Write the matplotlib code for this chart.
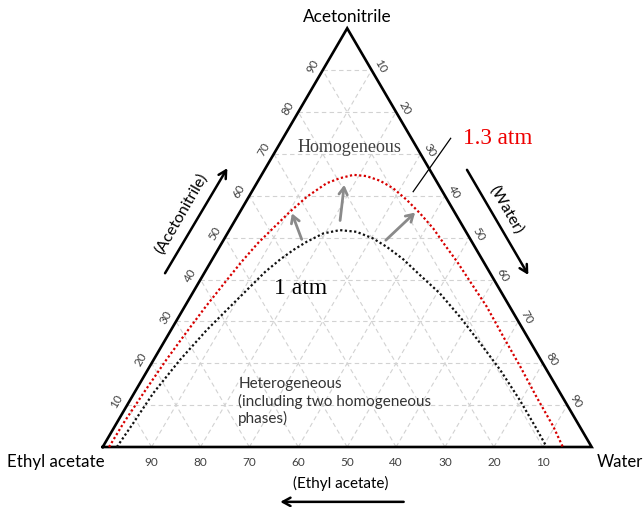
import numpy as np
import matplotlib.pyplot as plt

# ── binodal curves (mole fractions) ──────────────────────────────────────────
ACN_1ATM = [0.0, 0.057, 0.128, 0.208, 0.279, 0.327, 0.382, 0.418, 0.448, 0.471,
            0.490, 0.510, 0.518, 0.514, 0.498, 0.478, 0.448, 0.411, 0.367, 0.311,
            0.248, 0.184, 0.112, 0.049, 0.0]
WATER_1ATM = [0.029, 0.034, 0.039, 0.054, 0.073, 0.090, 0.110, 0.123, 0.139, 0.155,
              0.172, 0.196, 0.226, 0.262, 0.304, 0.342, 0.391, 0.443, 0.506, 0.575,
              0.648, 0.721, 0.797, 0.860, 0.908]

ACN_13ATM = [0.0, 0.057, 0.128, 0.208, 0.272, 0.335, 0.391, 0.443, 0.487, 0.522,
             0.562, 0.598, 0.630, 0.642, 0.650, 0.647, 0.636, 0.618, 0.590, 0.558,
             0.522, 0.482, 0.443, 0.395, 0.335, 0.263, 0.192, 0.120, 0.049, 0.0]
WATER_13ATM = [0.013, 0.014, 0.019, 0.026, 0.034, 0.043, 0.053, 0.063, 0.074, 0.087,
               0.102, 0.119, 0.143, 0.164, 0.188, 0.216, 0.249, 0.285, 0.327, 0.370,
               0.415, 0.459, 0.503, 0.554, 0.618, 0.688, 0.758, 0.827, 0.897, 0.941]

# pressure-shift arrows: (acn, water) of tail -> head
SHIFT_TAILS = [(0.496, 0.159), (0.541, 0.215), (0.494, 0.332)]
SHIFT_HEADS = [(0.558, 0.108), (0.626, 0.181), (0.560, 0.359)]

TICKS = [10, 20, 30, 40, 50, 60, 70, 80, 90]

SANS = ["Lato", "DejaVu Sans"]
SERIF = ["Liberation Serif", "DejaVu Serif"]
TICK_COLOR = "#404040"
ARROW = "->,head_length=0.55,head_width=0.3"


def tern(acn, water):
    """Acetonitrile at the top, water bottom-right, ethyl acetate bottom-left."""
    acn = np.asarray(acn, dtype=float)
    water = np.asarray(water, dtype=float)
    return water + acn / 2, acn


fig = plt.figure(figsize=(6.44, 5.07), dpi=100)
ax = fig.add_axes([0, 0, 1, 1])
ax.set_xlim(-0.210, 1.107)
ax.set_ylim(-0.1433, 1.0676)
ax.axis("off")

# dashed grid
for t in TICKS:
    f = t / 100
    for a0, w0, a1, w1 in [(f, 0, f, 1 - f),        # constant acetonitrile
                           (0, f, 1 - f, f),        # constant water
                           (0, 1 - f, 1 - f, 0)]:   # constant ethyl acetate
        x, y = tern([a0, a1], [w0, w1])
        ax.plot(x, y, color="#d2d2d2", lw=0.8, ls=(0, (4, 3)), zorder=1)

# triangle
x, y = tern([0, 0, 1, 0], [0, 1, 0, 0])
ax.plot(x, y, color="black", lw=1.9, solid_joinstyle="miter", zorder=3)

# tick labels
for t in TICKS:
    f = t / 100
    ax.annotate(str(t), tern(f, 0), xytext=(-7.4, 3.0), textcoords="offset points",
                ha="center", va="center", rotation=60, fontsize=8.5,
                color=TICK_COLOR, family=SANS)
    ax.annotate(str(t), tern(1 - f, f), xytext=(6.4, 2.8), textcoords="offset points",
                ha="center", va="center", rotation=-60, fontsize=8.5,
                color=TICK_COLOR, family=SANS)
    ax.annotate(str(t), tern(0, 1 - f), xytext=(0, -11.3), textcoords="offset points",
                ha="center", va="center", fontsize=8.5, color=TICK_COLOR, family=SANS)

# binodal curves
x, y = tern(ACN_1ATM, WATER_1ATM)
ax.plot(x, y, color="#111111", lw=1.6, ls=(0, (1, 1.1)), zorder=4)
x, y = tern(ACN_13ATM, WATER_13ATM)
ax.plot(x, y, color="#d80000", lw=1.6, ls=(0, (1, 1.1)), zorder=4)

for (ta, tw), (ha_, hw) in zip(SHIFT_TAILS, SHIFT_HEADS):
    ax.annotate("", xy=tern(ha_, hw), xytext=tern(ta, tw),
                arrowprops=dict(arrowstyle="->,head_length=0.5,head_width=0.3",
                                color="#8a8a8a", lw=2.0, shrinkA=0, shrinkB=0),
                zorder=5)

# vertex labels
ax.annotate("Acetonitrile", tern(1, 0), xytext=(0, 8), textcoords="offset points",
            ha="center", va="center", fontsize=12.4, family=SANS)
ax.annotate("Ethyl acetate", tern(0, 0), xytext=(1.5, -11), textcoords="offset points",
            ha="right", va="center", fontsize=12.2, family=SANS)
ax.annotate("Water", tern(0, 1), xytext=(4, -11), textcoords="offset points",
            ha="left", va="center", fontsize=12, family=SANS)

# direction arrows and axis captions
ax.annotate("", xy=tern(0.666, -0.078), xytext=tern(0.415, -0.080),
            arrowprops=dict(arrowstyle=ARROW, color="black", lw=1.8,
                            shrinkA=0, shrinkB=0))
ax.text(*tern(0.5565, -0.117), "(Acetonitrile)", rotation=60, ha="center",
        va="center", fontsize=11.5, family=SANS)
ax.annotate("", xy=tern(0.411, 0.665), xytext=tern(0.662, 0.414),
            arrowprops=dict(arrowstyle=ARROW, color="black", lw=1.8,
                            shrinkA=0, shrinkB=0))
ax.text(*tern(0.566, 0.543), "(Water)", rotation=-60, ha="center", va="center",
        fontsize=11.5, family=SANS)
ax.annotate("", xy=tern(-0.131, 0.4286), xytext=tern(-0.131, 0.681),
            arrowprops=dict(arrowstyle=ARROW, color="black", lw=1.8,
                            shrinkA=0, shrinkB=0))
ax.text(*tern(-0.0868, 0.531), "(Ethyl acetate)", ha="center", va="center",
        fontsize=11, family=SANS)

# region / curve labels
ax.text(*tern(0.7148, 0.148), "Homogeneous", ha="center", va="center",
        fontsize=13, color="#404040", family=SERIF)
ax.text(*tern(0.3797, 0.214), "1 atm", ha="center", va="center",
        fontsize=17, color="black", family=SERIF)
ax.text(*tern(0.738, 0.438), "1.3 atm", ha="center", va="center",
        fontsize=16.7, color="#ee0000", family=SERIF)
x, y = tern([0.7373, 0.6098], [0.343, 0.330])
ax.plot(x, y, color="black", lw=0.9, zorder=5)
ax.text(*tern(0.108, 0.223), "Heterogeneous\n(including two homogeneous\nphases)",
        ha="left", va="center", fontsize=11, color="#333333", family=SANS,
        linespacing=1.2)

fig.savefig("out.png", dpi=100)
